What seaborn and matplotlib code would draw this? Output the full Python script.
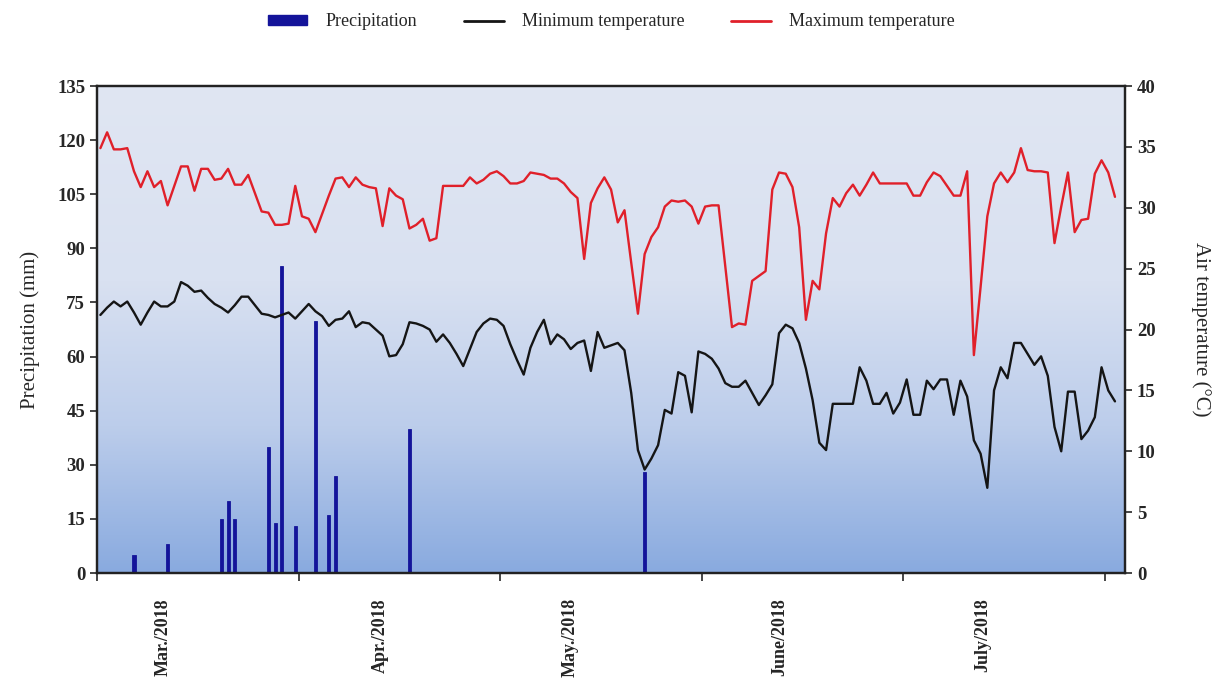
import numpy as np
import pandas as pd
import matplotlib
matplotlib.use("Agg")
import matplotlib.pyplot as plt
import seaborn as sns
from matplotlib.colors import LinearSegmentedColormap
from matplotlib.patches import Patch
from matplotlib.lines import Line2D

# daily values, day 0 = 1 March 2018
t_max = [34.9, 36.2, 34.8, 34.8, 34.9, 33.0, 31.7, 33.0, 31.7, 32.2,
         30.2, 31.8, 33.4, 33.4, 31.4, 33.2, 33.2, 32.3, 32.4, 33.2,
         31.9, 31.9, 32.7, 31.2, 29.7, 29.6, 28.6, 28.6, 28.7, 31.8,
         29.3, 29.1, 28.0, 29.5, 31.0, 32.4, 32.5, 31.7, 32.5, 31.9,
         31.7, 31.6, 28.5, 31.6, 31.0, 30.7, 28.3, 28.6, 29.1, 27.3,
         27.5, 31.8, 31.8, 31.8, 31.8, 32.5, 32.0, 32.3, 32.8, 33.0,
         32.6, 32.0, 32.0, 32.2, 32.9, 32.8, 32.7, 32.4, 32.4, 32.0,
         31.3, 30.8, 25.8, 30.4, 31.6, 32.5, 31.5, 28.8, 29.8, 25.5,
         21.3, 26.2, 27.6, 28.4, 30.1, 30.6, 30.5, 30.6, 30.1, 28.7,
         30.1, 30.2, 30.2, 25.2, 20.2, 20.5, 20.4, 24.0, 24.4, 24.8,
         31.5, 32.9, 32.8, 31.7, 28.4, 20.8, 24.0, 23.3, 27.9, 30.8,
         30.1, 31.2, 31.9, 31.0, 31.9, 32.9, 32.0, 32.0, 32.0, 32.0,
         32.0, 31.0, 31.0, 32.1, 32.9, 32.6, 31.8, 31.0, 31.0, 33.0,
         17.9, 23.5, 29.3, 32.0, 32.9, 32.1, 32.9, 34.9, 33.1, 33.0,
         33.0, 32.9, 27.1, 30.1, 32.9, 28.0, 29.0, 29.1, 32.8, 33.9,
         32.9, 30.9]

t_min = [21.2, 21.8, 22.3, 21.9, 22.3, 21.4, 20.4, 21.4, 22.3, 21.9,
         21.9, 22.3, 23.9, 23.6, 23.1, 23.2, 22.6, 22.1, 21.8, 21.4,
         22.0, 22.7, 22.7, 22.0, 21.3, 21.2, 21.0, 21.2, 21.4, 20.9,
         21.5, 22.1, 21.5, 21.1, 20.3, 20.8, 20.9, 21.5, 20.2, 20.6,
         20.5, 20.0, 19.5, 17.8, 17.9, 18.8, 20.6, 20.5, 20.3, 20.0,
         19.0, 19.6, 18.9, 18.0, 17.0, 18.4, 19.8, 20.5, 20.9, 20.8,
         20.3, 18.8, 17.5, 16.3, 18.5, 19.8, 20.8, 18.8, 19.6, 19.2,
         18.4, 18.9, 19.1, 16.6, 19.8, 18.5, 18.7, 18.9, 18.3, 14.8,
         10.1, 8.5, 9.4, 10.5, 13.4, 13.1, 16.5, 16.2, 13.2, 18.2,
         18.0, 17.6, 16.8, 15.6, 15.3, 15.3, 15.8, 14.8, 13.8, 14.6,
         15.5, 19.7, 20.4, 20.1, 18.9, 16.8, 14.2, 10.7, 10.1, 13.9,
         13.9, 13.9, 13.9, 16.9, 15.8, 13.9, 13.9, 14.8, 13.1, 14.0,
         15.9, 13.0, 13.0, 15.8, 15.1, 15.9, 15.9, 13.0, 15.8, 14.5,
         10.9, 9.8, 7.0, 15.0, 16.9, 16.0, 18.9, 18.9, 18.0, 17.1,
         17.8, 16.2, 12.0, 10.0, 14.9, 14.9, 11.0, 11.7, 12.8, 16.9,
         15.0, 14.1]

rain_day = [5, 10, 18, 19, 20, 25, 26, 27, 29, 32, 34, 35, 46, 81]
rain_mm = [5, 8, 15, 20, 15, 35, 14, 85, 13, 70, 16, 27, 40, 28]

month_labels = ["Mar./2018", "Apr./2018", "May./2018", "June/2018", "July/2018"]
month_label_pos = [9.8, 42.1, 70.4, 101.6, 131.8]

n_days = 153
bar_color = "#14149a"
tmin_color = "#151515"
tmax_color = "#e0202a"

temp = pd.DataFrame({"pos": np.arange(len(t_max)) + 0.5, "tmax": t_max, "tmin": t_min})
rain = pd.DataFrame({"pos": np.array(rain_day) + 0.5, "mm": rain_mm})

sns.set_style("ticks")
plt.rcParams["font.family"] = ["Liberation Serif", "DejaVu Serif"]

fig, ax = plt.subplots(figsize=(12.13, 6.83), dpi=100)
fig.subplots_adjust(left=0.08, right=0.9275, bottom=0.161, top=0.874)

# gradient background of the plot area
bg = LinearSegmentedColormap.from_list(
    "bg", [(0, "#89aadf"), (0.3, "#bccdeb"), (0.6, "#d9e1f1"), (1, "#e0e6f3")])
ax.imshow(np.linspace(0, 1, 256).reshape(-1, 1), extent=[0, n_days, 0, 135],
          origin="lower", aspect="auto", cmap=bg, zorder=0)

ax.bar(rain["pos"], rain["mm"], width=0.45, color=bar_color,
       edgecolor=bar_color, linewidth=0.6, zorder=2)

ax2 = ax.twinx()
sns.lineplot(data=temp, x="pos", y="tmin", color=tmin_color, lw=1.7, ax=ax2)
sns.lineplot(data=temp, x="pos", y="tmax", color=tmax_color, lw=1.7, ax=ax2)

ax.set_xlim(0, n_days)
ax.set_ylim(0, 135)
ax.set_yticks(range(0, 136, 15))
ax2.set_ylim(0, 40)
ax2.set_yticks(range(0, 41, 5))

ax.set_xticks(range(0, 151, 30))
ax.set_xticklabels([])
ax.set_xticks(month_label_pos, minor=True)
ax.set_xticklabels(month_labels, minor=True, rotation=90, fontweight="bold", fontsize=13)
ax.tick_params(axis="x", which="major", direction="out", length=6, width=1.2)
ax.tick_params(axis="x", which="minor", length=0, pad=18)

for a in (ax, ax2):
    a.tick_params(axis="y", direction="out", length=5, width=1.2, labelsize=13.5)
    for lab in a.get_yticklabels():
        lab.set_fontweight("bold")
    for s in a.spines.values():
        s.set_linewidth(1.6)
        s.set_color("#222222")

ax.set_xlabel("")
ax2.set_xlabel("")
ax.set_ylabel("Precipitation (mm)", fontsize=15, labelpad=12)
ax2.set_ylabel("Air temperature (°C)", fontsize=15, rotation=270, labelpad=40)

handles = [Patch(color=bar_color),
           Line2D([], [], color=tmin_color, lw=2),
           Line2D([], [], color=tmax_color, lw=2)]
fig.legend(handles, ["Precipitation", "Minimum temperature", "Maximum temperature"],
           loc="center", bbox_to_anchor=(0.504, 0.968), ncol=3, frameon=False,
           fontsize=13, handlelength=2.2, handleheight=0.5, handletextpad=1.0,
           columnspacing=2.6)

fig.savefig("out.png", dpi=100)
